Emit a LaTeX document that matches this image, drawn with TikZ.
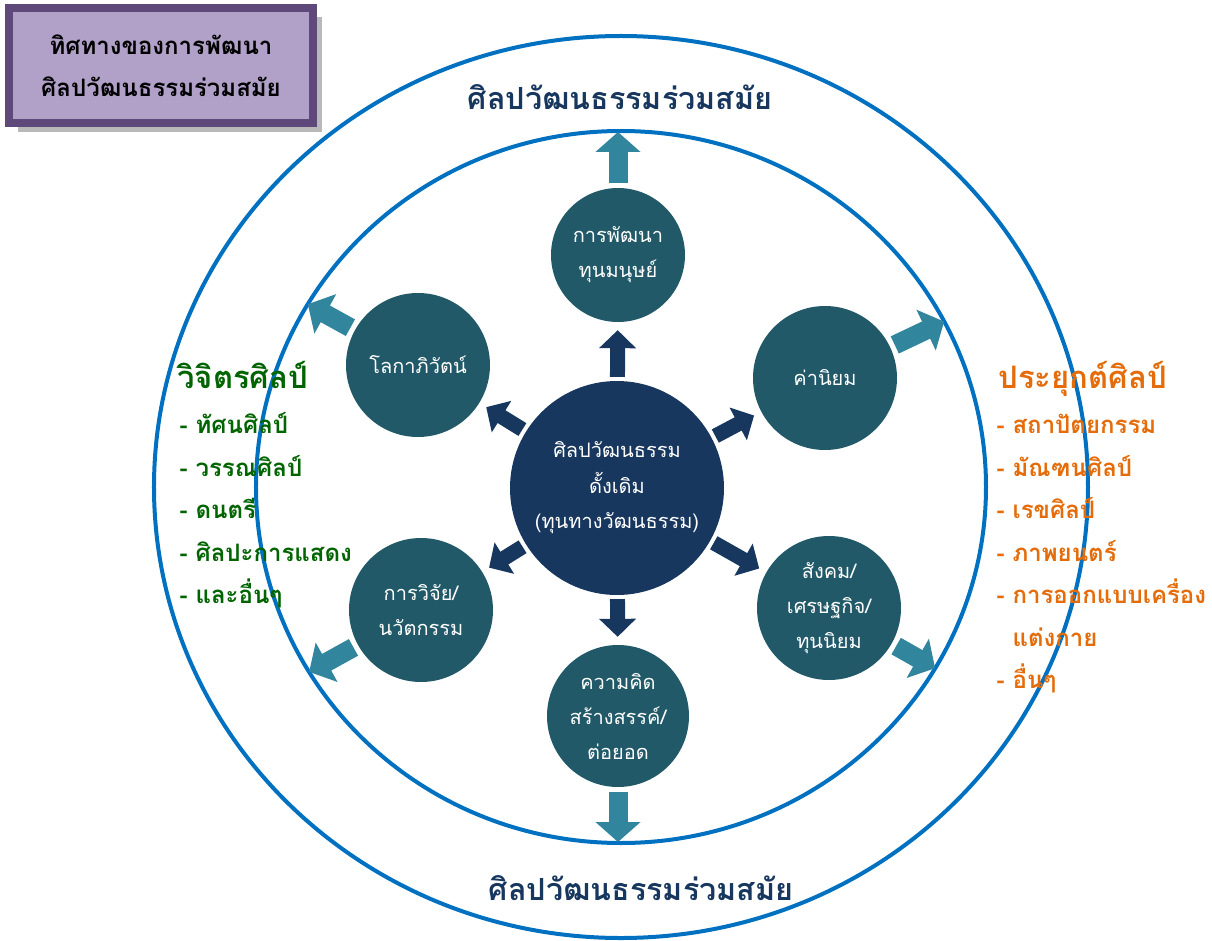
\documentclass[tikz,border=0pt]{standalone}
\usepackage{fontspec}
\newfontfamily\thaifont[Script=Thai]{Loma}
\definecolor{RingBlue}{RGB}{0,112,192}
\definecolor{CoreNavy}{RGB}{23,55,94}
\definecolor{SatTeal}{RGB}{33,89,104}
\definecolor{ArrowTeal}{RGB}{49,133,156}
\definecolor{BoxLilac}{RGB}{177,160,199}
\definecolor{BoxPlum}{RGB}{95,73,122}
\definecolor{FineGreen}{RGB}{0,100,0}
\definecolor{AppliedOrange}{RGB}{228,108,10}
\colorlet{LabelNavy}{CoreNavy}
\usetikzlibrary{arrows.meta}
\usetikzlibrary{shadows}

\tikzset{
  hub/.style={circle, fill=CoreNavy, text=white, minimum size=214pt, inner sep=0pt,
    align=center, font=\thaifont\fontsize{20}{35.5}\selectfont},
  sat/.style={circle, fill=SatTeal, text=white, minimum size=144pt, inner sep=0pt,
    align=center, font=\thaifont\fontsize{20}{35}\selectfont},
  outarrow/.style={ArrowTeal, line width=19pt, -{Triangle[length=20pt,width=44pt]},
    shorten <=5pt},
  inarrow/.style={CoreNavy, line width=15pt, -{Triangle[length=18pt,width=36pt]},
    shorten <=4pt, shorten >=8pt},
  ringlabel/.style={text=LabelNavy, font=\thaifont\bfseries\fontsize{30.5}{32}\selectfont},
  listitem/.style={anchor=base west, font=\thaifont\bfseries\fontsize{24}{26}\selectfont},
}

\begin{document}
\begin{tikzpicture}[x=1pt,y=1pt]

  \useasboundingbox (-621,-453) rectangle (591,487);

  \draw[RingBlue, line width=4pt] (0,0) ellipse [x radius=467, y radius=451];
  \draw[RingBlue, line width=4pt] (0,0) ellipse [x radius=365, y radius=356];

  \node[draw=BoxPlum, line width=8pt, fill=BoxLilac, minimum width=304pt, minimum height=115pt,
    align=center, font=\thaifont\bfseries\fontsize{24}{42}\selectfont,
    drop shadow={shadow xshift=9pt, shadow yshift=-9pt, fill=gray!55, opacity=1}]
    (boxtitle) at (-460,421.5) {ทิศทางของการพัฒนา\\ศิลปวัฒนธรรมร่วมสมัย};

  \node[ringlabel] (toplabel) at (-1,390) {ศิลปวัฒนธรรมร่วมสมัย};
  \node[ringlabel] (bottomlabel) at (20,-401) {ศิลปวัฒนธรรมร่วมสมัย};

  \node[hub] (core) at (-4,-1) {ศิลปวัฒนธรรม\\ดั้งเดิม\\(ทุนทางวัฒนธรรม)};

  \node[sat, minimum size=134pt] (humancap) at (-3,232) {การพัฒนา\\ทุนมนุษย์};
  \node[sat] (values) at (204,109) {ค่านิยม};
  \node[sat] (globalise) at (-203,122) {โลกาภิวัตน์};
  \node[sat] (research) at (-200,-123) {การวิจัย/\\นวัตกรรม};
  \node[sat] (society) at (208,-121) {สังคม/\\เศรษฐกิจ/\\ทุนนิยม};
  \node[sat, minimum size=142pt] (creative) at (-3,-229) {ความคิด\\สร้างสรรค์/\\ต่อยอด};

  \coordinate (humancapend) at (-3,355);
  \coordinate (valuesend) at (27.7:365 and 356);
  \coordinate (globaliseend) at (149.1:365 and 356);
  \coordinate (researchend) at (211.3:365 and 356);
  \coordinate (societyend) at (-30.6:365 and 356);
  \coordinate (creativeend) at (-3,-355);

  \foreach \sat in {humancap,values,globalise,research,society,creative}{
    \draw[inarrow] (core) -- (\sat);
    \draw[outarrow] (\sat) -- (\sat end);
  }

  \node[anchor=base west, text=FineGreen, font=\thaifont\bfseries\fontsize{31}{33}\selectfont]
    (finehead) at (-447,99) {วิจิตรศิลป์};
  \foreach \txt [count=\i] in {- ทัศนศิลป์, - วรรณศิลป์, - ดนตรี, - ศิลปะการแสดง, - และอื่นๆ}
    \node[listitem, text=FineGreen] (fine\i) at (-445,62-42.5*\i+34) {\txt};

  \node[anchor=base west, text=AppliedOrange, font=\thaifont\bfseries\fontsize{31}{33}\selectfont]
    (appliedhead) at (374,99) {ประยุกต์ศิลป์};
  \foreach \txt [count=\i] in {- สถาปัตยกรรม, - มัณฑนศิลป์, - เรขศิลป์, - ภาพยนตร์,
      - การออกแบบเครื่อง, \phantom{- }แต่งกาย, - อื่นๆ}
    \node[listitem, text=AppliedOrange] (applied\i) at (372,62-42.5*\i+34) {\txt};

\end{tikzpicture}
\end{document}
